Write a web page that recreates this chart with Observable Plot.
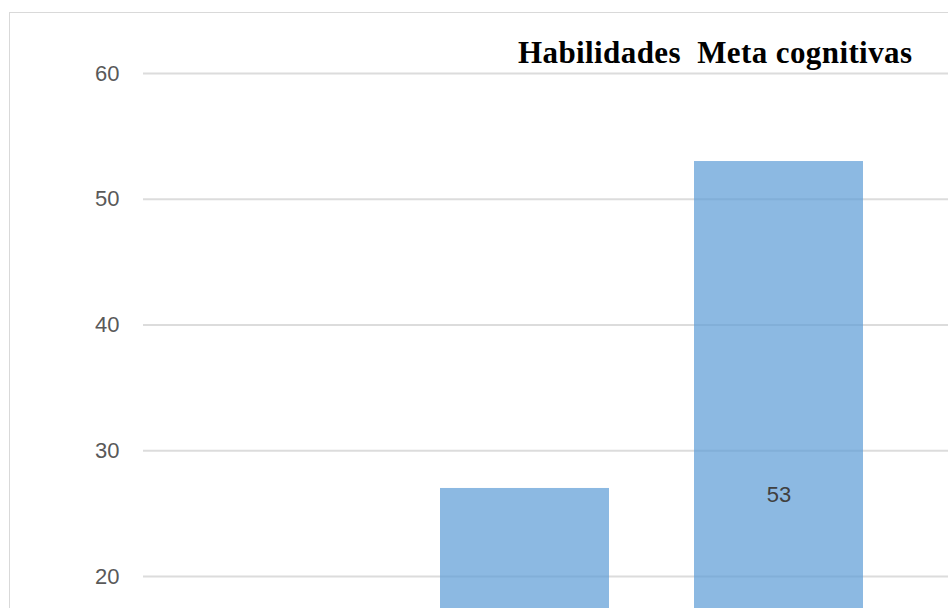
<!DOCTYPE html>
<html>
<head>
<meta charset="utf-8">
<script src="https://cdn.jsdelivr.net/npm/d3@7"></script>
<script src="https://cdn.jsdelivr.net/npm/@observablehq/plot@0.6"></script>
<style>
  html, body { margin: 0; padding: 0; width: 948px; height: 608px; overflow: hidden; background: #fff; }
  #wrap { position: relative; width: 948px; height: 608px; overflow: hidden; }
  #frame { position: absolute; left: 9px; top: 12px; width: 2000px; height: 2000px;
           border-left: 1.5px solid #d9d9d9; border-top: 1.5px solid #d9d9d9; }
  #chart { position: absolute; left: 0; top: 0; }
  #title { position: absolute; left: 518px; top: 35px; font-family: "Liberation Serif", "Times New Roman", serif;
           font-weight: bold; font-size: 31px; line-height: normal; letter-spacing: 0.4px; color: #000; white-space: pre; }
</style>
</head>
<body>
<div id="wrap">
  <div id="frame"></div>
  <div id="chart"></div>
  <div id="title"></div>
</div>
<script>
// Categories (first and last lie outside the visible crop; their values are not readable)
const categories = ["c1", "c2", "c3", "c4"];
const values = [null, 27, 53, null];
const yTicks = [20, 30, 40, 50, 60];
const yDomain = [17.455, 60];
const title = "Habilidades  Meta cognitivas";

document.getElementById("title").textContent = title;

const data = categories.map((c, i) => ({cat: c, value: values[i]}));
// data labels sit at the centre of each bar; keep only those inside the visible area
const labelData = data.filter(d => d.value != null && d.value / 2 >= yDomain[0] + 1);

const chart = Plot.plot({
  width: 948,
  height: 608,
  marginTop: 73,
  marginBottom: 0,
  marginLeft: 143,
  marginRight: 0,
  style: {fontFamily: "'Liberation Sans', Arial, sans-serif", background: "transparent"},
  x: {domain: categories, range: [143, 1161], paddingInner: 0.334, paddingOuter: 0.167, axis: null},
  y: {domain: yDomain, axis: null},
  marks: [
    Plot.ruleY(yTicks, {stroke: "#dcdcdc", strokeWidth: 2}),
    Plot.barY(data, {x: "cat", y: "value", fill: "#5b9bd5", fillOpacity: 0.7, clip: true}),
    Plot.text(labelData, {
      x: "cat", y: d => d.value / 2, text: d => String(d.value),
      fontSize: 22, fill: "#404040"
    }),
    Plot.axisY({ticks: yTicks, tickSize: 0, tickPadding: 24, fontSize: 22, fill: "#595959", label: null})
  ]
});
document.getElementById("chart").appendChild(chart);
</script>
</body>
</html>
